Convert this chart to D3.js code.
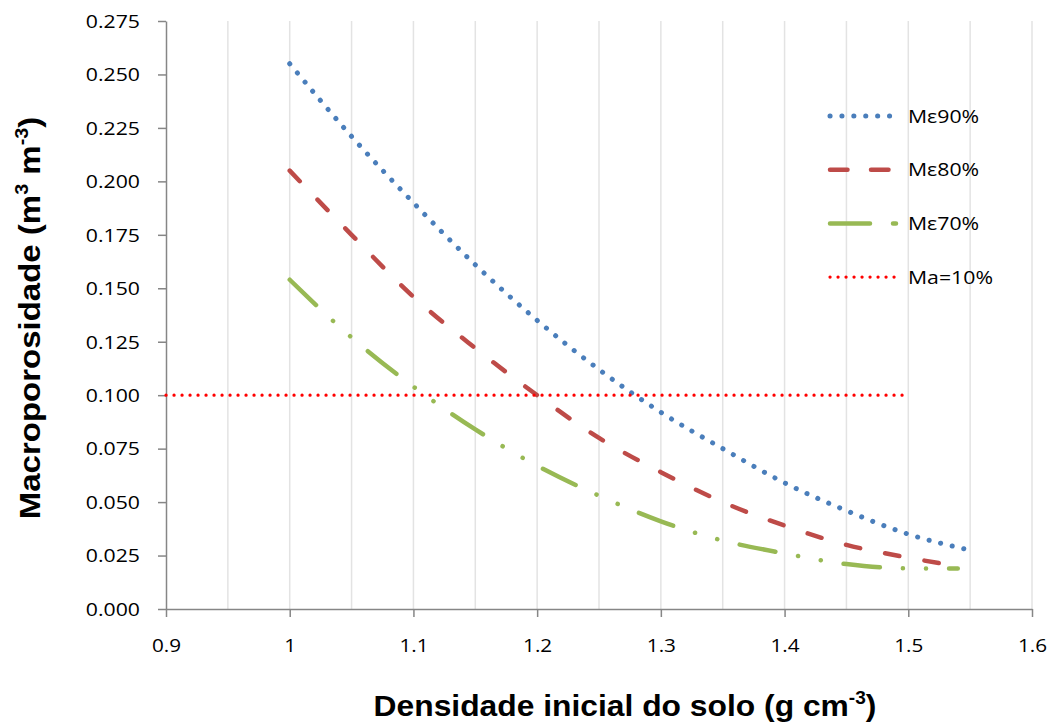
<!DOCTYPE html>
<html>
<head>
<meta charset="utf-8">
<script src="https://cdn.jsdelivr.net/npm/d3@7"></script>
<style>
  body { margin: 0; background: #fff; }
  svg { display: block; }
  .tick text { font-family: "Open Sans", Lato, sans-serif; font-size: 18px; fill: #000; }
  .axisTitle { font-family: "Liberation Sans", Arial, sans-serif; font-weight: bold; fill: #000; }
  .legend text { font-family: "Open Sans", Lato, sans-serif; font-size: 19px; fill: #000; }
</style>
</head>
<body>
<svg id="chart" width="1056" height="724"></svg>
<script>
// densities
const density = [1.0, 1.05, 1.1, 1.15, 1.2, 1.25, 1.3, 1.35, 1.4, 1.45, 1.5, 1.55];
const me90 = [0.255, 0.221, 0.190, 0.161, 0.135, 0.112, 0.092, 0.075, 0.059, 0.046, 0.035, 0.0275];
const density80 = [1.0, 1.05, 1.1, 1.15, 1.2, 1.25, 1.3, 1.35, 1.4, 1.45, 1.5, 1.54];
const me80 = [0.205, 0.175, 0.146, 0.122, 0.100, 0.080, 0.064, 0.050, 0.039, 0.030, 0.024, 0.020];
const density70 = [1.0, 1.05, 1.1, 1.15, 1.2, 1.25, 1.3, 1.35, 1.4, 1.45, 1.5, 1.54];
const me70 = [0.154, 0.127, 0.104, 0.084, 0.067, 0.053, 0.041, 0.032, 0.026, 0.021, 0.019, 0.019];
const maX = [0.9, 1.5];
const maY = [0.1, 0.1];

const xTicks = [0.9, 1.0, 1.1, 1.2, 1.3, 1.4, 1.5, 1.6];
const xGrid = [0.95, 1.0, 1.05, 1.1, 1.15, 1.2, 1.25, 1.3, 1.35, 1.4, 1.45, 1.5, 1.55, 1.6];
const yTicks = [0, 0.025, 0.05, 0.075, 0.1, 0.125, 0.15, 0.175, 0.2, 0.225, 0.25, 0.275];

const series = [
  { name: 'Mε90%', xs: density, ys: me90, color: '#4a7ebb', width: 5, dash: '0.1,11.8' },
  { name: 'Mε80%', xs: density80, ys: me80, color: '#be4b48', width: 4.5, dash: '14.5,25.5' },
  { name: 'Mε70%', xs: density70, ys: me70, color: '#98b954', width: 4.5, dash: '36.5,23,0.1,23,0.1,23' },
  { name: 'Ma=10%', xs: maX, ys: maY, color: '#ff0000', width: 3.2, dash: '0.1,7.9' }
];

const svg = d3.select('#chart');
const margin = { left: 166, right: 24, top: 21, bottom: 115 };
const width = 1056 - margin.left - margin.right;
const height = 724 - margin.top - margin.bottom;

const x = d3.scaleLinear().domain([0.9, 1.6]).range([0, width]);
const y = d3.scaleLinear().domain([0, 0.275]).range([height, 0]);

const g = svg.append('g').attr('transform', `translate(${margin.left},${margin.top})`);

// vertical gridlines
g.append('g').selectAll('line').data(xGrid).join('line')
  .attr('x1', d => x(d)).attr('x2', d => x(d))
  .attr('y1', 0).attr('y2', height)
  .attr('stroke', '#e3e3e3').attr('stroke-width', 1.5);

const xAxis = g.append('g').attr('transform', `translate(0,${height})`)
  .call(d3.axisBottom(x).tickValues(xTicks).tickSize(8).tickSizeOuter(0)
    .tickFormat(d => d === 1 ? '1' : d3.format('.1f')(d)));
const yAxis = g.append('g')
  .call(d3.axisLeft(y).tickValues(yTicks).tickSize(8).tickSizeOuter(0).tickFormat(d3.format('.3f')));
[xAxis, yAxis].forEach(a => {
  a.select('.domain').attr('stroke', '#868686').attr('stroke-width', 1.5);
  a.selectAll('.tick line').attr('stroke', '#868686').attr('stroke-width', 1.5);
});
xAxis.selectAll('.tick line').attr('y1', 0).attr('y2', 8);
// the reference text is a little wider than the fonts we have
xAxis.selectAll('.tick text').attr('dy', '0').attr('y', 0)
  .attr('transform', 'translate(0,43) scale(1.15,1)');
yAxis.selectAll('.tick text').attr('x', 0).attr('dy', '0.35em')
  .attr('transform', 'translate(-26,0) scale(1.18,1)');

const line = d3.line()
  .x(d => x(d[0]))
  .y(d => y(d[1]))
  .curve(d3.curveMonotoneX);

g.append('g').selectAll('path').data(series).join('path')
  .attr('d', s => line(s.xs.map((v, i) => [v, s.ys[i]])))
  .attr('fill', 'none')
  .attr('stroke', s => s.color)
  .attr('stroke-width', s => s.width)
  .attr('stroke-dasharray', s => s.dash)
  .attr('stroke-linecap', 'round');

// legend
const legend = svg.append('g').attr('class', 'legend');
const rows = legend.selectAll('g').data(series).join('g')
  .attr('transform', (d, i) => `translate(830,${116 + i * 53.7})`);
rows.append('line')
  .attr('x1', 0).attr('x2', d => d.name === 'Ma=10%' ? 67 : 66)
  .attr('y1', 0).attr('y2', 0)
  .attr('stroke', d => d.color)
  .attr('stroke-width', d => d.width)
  .attr('stroke-dasharray', (d, i) => i === 1 ? '17.5,23.5' : i === 2 ? '40,23' : d.dash)
  .attr('stroke-linecap', 'round');
rows.append('text')
  .attr('dy', '0.35em')
  .attr('transform', 'translate(78,0) scale(1.12,1)')
  .text(d => d.name);

// axis titles
const xt = svg.append('text').attr('class', 'axisTitle')
  .attr('text-anchor', 'middle')
  .attr('transform', 'translate(625,716) scale(1.06,1)')
  .style('font-size', '30px');
xt.append('tspan').text('Densidade inicial do solo (g cm');
xt.append('tspan').attr('dy', -12).style('font-size', '18px').text('-3');
xt.append('tspan').attr('dy', 12).text(')');

const yt = svg.append('text').attr('class', 'axisTitle')
  .attr('transform', 'translate(40,318) rotate(-90) scale(1.1,1)')
  .attr('text-anchor', 'middle')
  .style('font-size', '30px');
yt.append('tspan').text('Macroporosidade (m');
yt.append('tspan').attr('dy', -12).style('font-size', '18px').text('3');
yt.append('tspan').attr('dy', 12).text(' m');
yt.append('tspan').attr('dy', -12).style('font-size', '18px').text('-3');
yt.append('tspan').attr('dy', 12).text(')');
</script>
</body>
</html>
